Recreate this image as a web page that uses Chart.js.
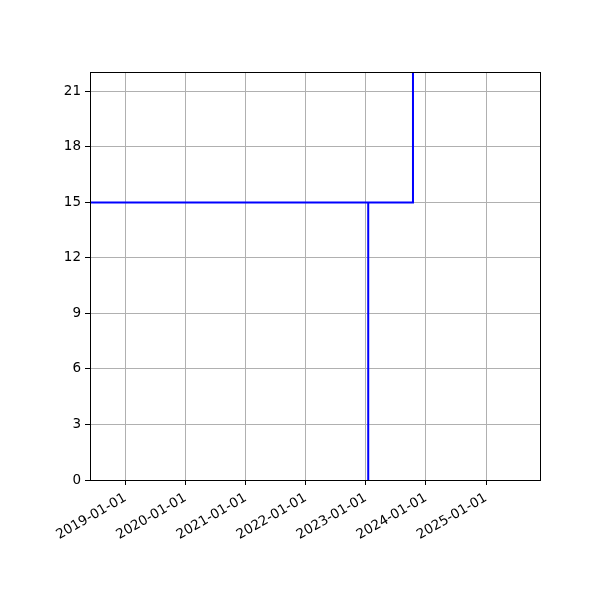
<!DOCTYPE html>
<html><head><meta charset="utf-8">
<script src="https://cdn.jsdelivr.net/npm/chart.js@4/dist/chart.umd.min.js"></script>
<style>html,body{margin:0;padding:0;background:#fff}#wrap{width:600px;height:600px}</style>
</head><body><div id="wrap"><canvas id="c" width="600" height="600"></canvas></div>
<script>
// Data
const xDates = ['2023-01-16','2023-01-16','2017-01-01','2023-10-15','2023-10-15'];
const yValues = [0, 15, 15, 15, 30];
const xTickYears = [2019, 2020, 2021, 2022, 2023, 2024, 2025];
const yTickValues = [0, 3, 6, 9, 12, 15, 18, 21];
const xMinDate = '2018-05-31';
const xMaxDate = '2025-11-25';
const yMin = 0, yMax = 22.05;

const points = xDates.map((d, i) => ({x: Date.parse(d), y: yValues[i]}));
const pad2 = n => String(n).padStart(2, '0');
const fmt = v => { const d = new Date(v); return d.getUTCFullYear() + '-' + pad2(d.getUTCMonth()+1) + '-' + pad2(d.getUTCDate()); };

const frame = {
  id: 'frame',
  afterDatasetsDraw(chart) {
    const {ctx, chartArea: a} = chart;
    ctx.save();
    ctx.strokeStyle = '#000'; ctx.lineWidth = 1;
    ctx.strokeRect(Math.round(a.left)+0.5, Math.round(a.top)+0.5, Math.round(a.right-a.left), Math.round(a.bottom-a.top));
    ctx.restore();
  }
};

new Chart(document.getElementById('c'), {
  type: 'line',
  data: { datasets: [{ data: points, borderColor: '#0000ff', borderWidth: 2, pointRadius: 0, fill: false, tension: 0 }] },
  options: {
    responsive: false, animation: false, devicePixelRatio: 1,
    layout: { padding: { top: 72, right: 60, left: 0, bottom: 0 } },
    plugins: { legend: { display: false }, tooltip: { enabled: false } },
    scales: {
      x: {
        type: 'linear', min: Date.parse(xMinDate), max: Date.parse(xMaxDate),
        afterBuildTicks: s => { s.ticks = xTickYears.map(y => ({value: Date.UTC(y, 0, 1)})); },
        afterFit: s => { s.height = 120; },
        grid: { color: '#b0b0b0', lineWidth: 1, tickColor: '#000', tickLength: 5 },
        border: { color: '#000' },
        ticks: { minRotation: 30, maxRotation: 30, autoSkip: false, padding: 5, color: '#000',
                 font: { family: 'DejaVu Sans', size: 13.5 }, callback: v => fmt(v) }
      },
      y: {
        min: yMin, max: yMax,
        afterBuildTicks: s => { s.ticks = yTickValues.map(v => ({value: v})); },
        afterFit: s => { s.width = 90; },
        grid: { color: '#b0b0b0', lineWidth: 1, tickColor: '#000', tickLength: 5 },
        border: { color: '#000' },
        ticks: { padding: 4, color: '#000', font: { family: 'DejaVu Sans', size: 13.5 } }
      }
    }
  },
  plugins: [frame]
});
</script></body></html>
